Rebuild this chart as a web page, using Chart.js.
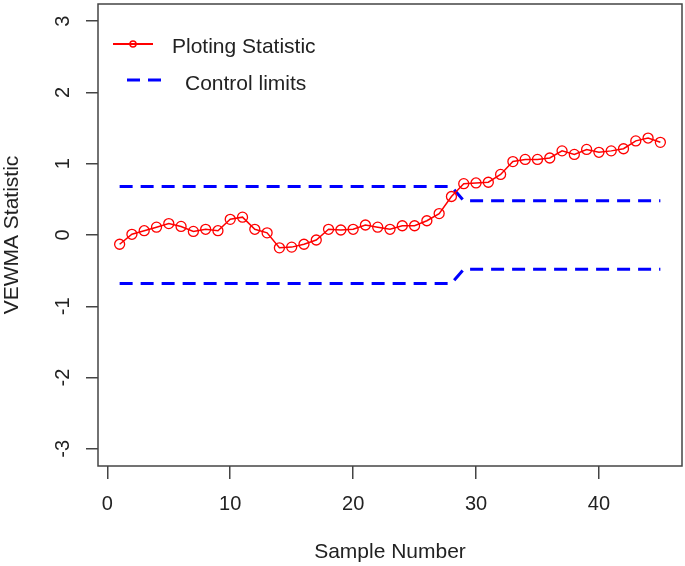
<!DOCTYPE html>
<html>
<head>
<meta charset="utf-8">
<title>VEWMA chart</title>
<script src="https://cdn.jsdelivr.net/npm/chart.js@4/dist/chart.umd.min.js"></script>
<style>
  html, body { margin: 0; padding: 0; background: #fff; }
  #wrap { width: 685px; height: 566px; position: relative; }
</style>
</head>
<body>
<div id="wrap"><canvas id="chart"></canvas></div>
<script>
// sample numbers on the x axis
var samples = [1, 2, 3, 4, 5, 6, 7, 8, 9, 10,
  11, 12, 13, 14, 15, 16, 17, 18, 19, 20,
  21, 22, 23, 24, 25, 26, 27, 28, 29, 30,
  31, 32, 33, 34, 35, 36, 37, 38, 39, 40,
  41, 42, 43, 44, 45];

// plotting statistic (red)
var plotStat = [-0.13, 0.01, 0.06, 0.11, 0.16, 0.12, 0.05, 0.08, 0.06, 0.22,
  0.25, 0.08, 0.03, -0.18, -0.17, -0.13, -0.07, 0.08, 0.07, 0.08,
  0.14, 0.11, 0.08, 0.13, 0.13, 0.20, 0.30, 0.54, 0.72, 0.73,
  0.74, 0.85, 1.03, 1.06, 1.06, 1.08, 1.18, 1.13, 1.20, 1.16,
  1.18, 1.21, 1.32, 1.36, 1.30];

// control limits (blue dashed)
var ucl = [0.68, 0.68, 0.68, 0.68, 0.68, 0.68, 0.68, 0.68, 0.68, 0.68,
  0.68, 0.68, 0.68, 0.68, 0.68, 0.68, 0.68, 0.68, 0.68, 0.68,
  0.68, 0.68, 0.68, 0.68, 0.68, 0.68, 0.68, 0.68, 0.48, 0.48,
  0.48, 0.48, 0.48, 0.48, 0.48, 0.48, 0.48, 0.48, 0.48, 0.48,
  0.48, 0.48, 0.48, 0.48, 0.48];
var lcl = [-0.68, -0.68, -0.68, -0.68, -0.68, -0.68, -0.68, -0.68, -0.68, -0.68,
  -0.68, -0.68, -0.68, -0.68, -0.68, -0.68, -0.68, -0.68, -0.68, -0.68,
  -0.68, -0.68, -0.68, -0.68, -0.68, -0.68, -0.68, -0.68, -0.48, -0.48,
  -0.48, -0.48, -0.48, -0.48, -0.48, -0.48, -0.48, -0.48, -0.48, -0.48,
  -0.48, -0.48, -0.48, -0.48, -0.48];

var xTicks = [0, 10, 20, 30, 40];
var yTicks = [-3, -2, -1, 0, 1, 2, 3];

var FONT = "'Liberation Sans', Arial, Helvetica, sans-serif";
var INK = '#222';
var AXIS = '#444';

function pts(ys) {
  return samples.map(function (s, i) { return { x: s, y: ys[i] }; });
}

// R-like box, rotated y tick labels and the in-plot legend
var rStyle = {
  id: 'rStyle',
  afterDraw: function (chart) {
    var ctx = chart.ctx;
    var a = chart.chartArea;
    var ys = chart.scales.y;
    ctx.save();

    ctx.strokeStyle = AXIS;
    ctx.lineWidth = 1.5;
    ctx.strokeRect(a.left, a.top, a.right - a.left, a.bottom - a.top);

    ctx.fillStyle = INK;
    ctx.font = '20px ' + FONT;
    ctx.textAlign = 'center';
    ctx.textBaseline = 'middle';
    yTicks.forEach(function (v) {
      var py = ys.getPixelForValue(v);
      ctx.save();
      ctx.translate(a.left - 35, py);
      ctx.rotate(-Math.PI / 2);
      ctx.fillText(String(v), 0, 0);
      ctx.restore();
    });

    // legend
    var lx = a.left;
    ctx.strokeStyle = '#ff0000';
    ctx.lineWidth = 2;
    ctx.beginPath();
    ctx.moveTo(lx + 15, a.top + 40);
    ctx.lineTo(lx + 55, a.top + 40);
    ctx.stroke();
    ctx.lineWidth = 1.5;
    ctx.beginPath();
    ctx.arc(lx + 35, a.top + 40, 3, 0, Math.PI * 2);
    ctx.stroke();

    ctx.strokeStyle = '#0000ff';
    ctx.lineWidth = 3;
    ctx.setLineDash([13, 8]);
    ctx.beginPath();
    ctx.moveTo(lx + 29, a.top + 76);
    ctx.lineTo(lx + 64, a.top + 76);
    ctx.stroke();
    ctx.setLineDash([]);

    ctx.fillStyle = INK;
    ctx.font = '21px ' + FONT;
    ctx.textAlign = 'left';
    ctx.fillText('Ploting Statistic', lx + 74, a.top + 43);
    ctx.fillText('Control limits', lx + 87, a.top + 80);

    ctx.restore();
  }
};

var ctx = document.getElementById('chart');
new Chart(ctx, {
  type: 'line',
  data: {
    datasets: [
      {
        label: 'Ploting Statistic',
        data: pts(plotStat),
        borderColor: '#ff0000',
        borderWidth: 1.5,
        pointRadius: 5,
        pointBorderWidth: 1.3,
        pointBorderColor: '#ff0000',
        pointBackgroundColor: 'rgba(0,0,0,0)',
        tension: 0
      },
      {
        label: 'UCL',
        data: pts(ucl),
        borderColor: '#0000ff',
        borderWidth: 3,
        borderDash: [13, 8],
        pointRadius: 0,
        tension: 0
      },
      {
        label: 'LCL',
        data: pts(lcl),
        borderColor: '#0000ff',
        borderWidth: 3,
        borderDash: [13, 8],
        pointRadius: 0,
        tension: 0
      }
    ]
  },
  options: {
    responsive: true,
    maintainAspectRatio: false,
    animation: false,
    layout: { autoPadding: false, padding: { top: 4, right: 3, left: 0, bottom: 0 } },
    plugins: {
      legend: { display: false },
      tooltip: { enabled: false }
    },
    scales: {
      x: {
        type: 'linear',
        min: -0.76,
        max: 46.76,
        afterFit: function (s) { s.height = 100; },
        afterBuildTicks: function (s) {
          s.ticks = xTicks.map(function (v) { return { value: v }; });
        },
        ticks: {
          stepSize: 10,
          includeBounds: false,
          autoSkip: false,
          maxRotation: 0,
          padding: 13,
          color: INK,
          font: { family: FONT, size: 20 }
        },
        grid: {
          drawOnChartArea: false,
          drawTicks: true,
          tickLength: 13,
          color: AXIS,
          lineWidth: 1.5
        },
        border: { display: false },
        title: {
          display: true,
          text: 'Sample Number',
          color: INK,
          padding: { top: 0, bottom: 1 },
          font: { family: FONT, size: 21 }
        }
      },
      y: {
        min: -3.24,
        max: 3.24,
        afterFit: function (s) { s.width = 98; },
        afterBuildTicks: function (s) {
          s.ticks = yTicks.map(function (v) { return { value: v }; });
        },
        ticks: {
          display: false,
          stepSize: 1,
          includeBounds: false
        },
        grid: {
          drawOnChartArea: false,
          drawTicks: true,
          tickLength: 12,
          color: AXIS,
          lineWidth: 1.5
        },
        border: { display: false },
        title: {
          display: true,
          text: 'VEWMA Statistic',
          color: INK,
          padding: { top: 0, bottom: 0 },
          font: { family: FONT, size: 21 }
        }
      }
    }
  },
  plugins: [rStyle]
});
</script>
</body>
</html>
